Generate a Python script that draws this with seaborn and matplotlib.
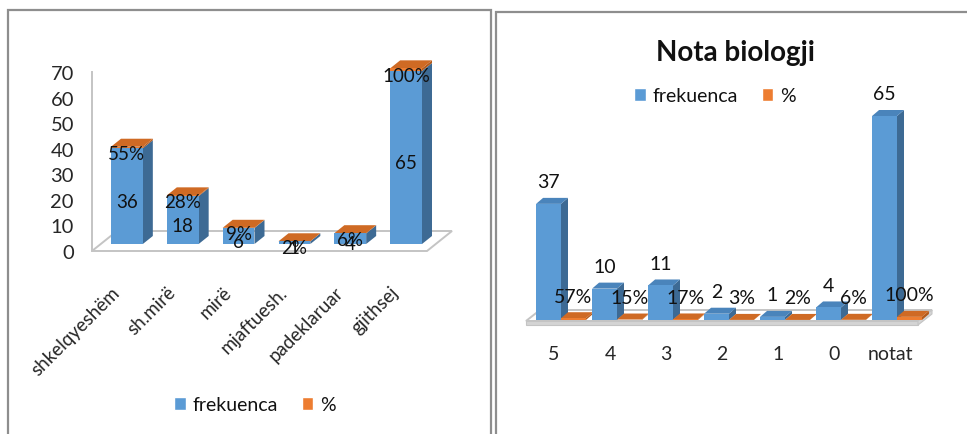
import matplotlib
matplotlib.use("Agg")
import matplotlib.pyplot as plt
import seaborn as sns
import pandas as pd
from matplotlib.patches import Polygon, Rectangle
from matplotlib.transforms import ScaledTranslation

# ---- data -------------------------------------------------------------
grades_left = ["shkelqyeshëm", "sh.mirë", "mirë", "mjaftuesh.", "padeklaruar", "gjithsej"]
freq_left = [36, 18, 6, 1, 4, 65]
pct_left = [0.55, 0.28, 0.09, 0.02, 0.06, 1.00]

grades_right = ["5", "4", "3", "2", "1", "0", "notat"]
freq_right = [37, 10, 11, 2, 1, 4, 65]
pct_right = [0.57, 0.15, 0.17, 0.03, 0.02, 0.06, 1.00]

series_names = ["frekuenca", "%"]
left_ticks = [0, 10, 20, 30, 40, 50, 60, 70]
title_right = "Nota biologji"

# ---- style ------------------------------------------------------------
BLUE, ORANGE = "#5b9bd5", "#ed7d31"
BLUE_SIDE, BLUE_TOP = "#3d6a94", "#4a84bb"
ORANGE_SIDE, ORANGE_TOP = "#b55a1a", "#cf6a24"
GRID = "#c4c4c4"
BORDER = "#8e8e8e"

sns.set_theme(style="white")
plt.rcParams["font.family"] = ["Lato", "DejaVu Sans"]
plt.rcParams["text.color"] = "#111111"

W, H, DPI = 967, 435, 100
fig = plt.figure(figsize=(W / DPI, H / DPI), dpi=DPI)
fig.patch.set_facecolor("white")


def fx(x):
    return x / W


def fy(y):
    return 1 - y / H


def axes_px(left, top, right, bottom, **kw):
    return fig.add_axes([fx(left), fy(bottom), (right - left) / W, (bottom - top) / H], **kw)


def fig_poly(pts, **kw):
    p = Polygon([(fx(x), fy(y)) for x, y in pts], closed=True,
                transform=fig.transFigure, **kw)
    fig.add_artist(p)
    return p


def extrude(ax, bars, dx_px, dy_px, side_color, top_color=None):
    """Add a receding side face (and optionally a top face) to each bar."""
    p0 = ax.transData.transform((0, 0))
    p1 = ax.transData.transform((1, 1))
    ux = dx_px / (p1[0] - p0[0])
    uy = dy_px / (p1[1] - p0[1])
    for r in bars:
        x0, y0 = r.get_x(), r.get_y()
        x1, y1 = x0 + r.get_width(), y0 + r.get_height()
        ax.add_patch(Polygon([(x1, y0), (x1 + ux, y0 + uy), (x1 + ux, y1 + uy), (x1, y1)],
                             closed=True, fc=side_color, ec="none", clip_on=False, zorder=0.9))
        if top_color is not None:
            ax.add_patch(Polygon([(x0, y1), (x1, y1), (x1 + ux, y1 + uy), (x0 + ux, y1 + uy)],
                                 closed=True, fc=top_color, ec="none", clip_on=False, zorder=0.95))


# ---- panel frames -----------------------------------------------------
fig.add_artist(Rectangle((fx(8), fy(445)), (491 - 8) / W, (445 - 11) / H,
                         transform=fig.transFigure, fill=False, ec=BORDER, lw=1.6, zorder=-2))
fig.add_artist(Rectangle((fx(496), fy(445)), (985 - 496) / W, (445 - 13) / H,
                         transform=fig.transFigure, fill=False, ec=BORDER, lw=1.6, zorder=-2))

# ---- left chart: stacked 3-D columns -----------------------------------
FS_L = 13.5
# floor of the 3-D plot
fig_poly([(92, 252), (427, 252), (452, 232), (117, 232)], fill=False, ec=GRID, lw=1.4, zorder=-1)

# value axis drawn on the wall
axt = axes_px(92, 73, 434, 252)
axt.set_facecolor("none")
axt.set_ylim(0, 70)
axt.set_xlim(0, 1)
axt.set_yticks(left_ticks)
axt.set_yticklabels([str(t) for t in left_ticks], fontsize=14.5)
axt.set_xticks([])
axt.tick_params(axis="y", length=0, pad=13)
for s in ["top", "right", "bottom"]:
    axt.spines[s].set_visible(False)
axt.spines["left"].set_color(GRID)
axt.spines["left"].set_linewidth(1.4)

k_left = 173 / 65
ax1 = axes_px(99, 245 - 75 * k_left, 434, 245)
ax1.set_facecolor("none")
sns.barplot(x=grades_left, y=freq_left, color=BLUE, width=0.57, saturation=1,
            linewidth=0, edgecolor="none", ax=ax1, zorder=1)
sns.barplot(x=grades_left, y=pct_left, color=ORANGE, width=0.57, saturation=1,
            linewidth=0, edgecolor="none", bottom=freq_left, ax=ax1, zorder=1)
ax1.set_xlim(-0.5, len(grades_left) - 0.5)
ax1.set_ylim(0, 75)
blue_l, orange_l = ax1.containers[0], ax1.containers[1]
extrude(ax1, blue_l, 10, 8, BLUE_SIDE)
extrude(ax1, orange_l, 10, 8, ORANGE_SIDE, ORANGE_TOP)

for i, (f, p) in enumerate(zip(freq_left, pct_left)):
    ax1.annotate(str(f), (i, f / 2), xytext=(0, -5), textcoords="offset pixels",
                 ha="center", va="center", fontsize=FS_L, zorder=5)
    ax1.annotate(f"{p * 100:.0f}%", (i, f + p / 2), xytext=(0, -6), textcoords="offset pixels",
                 ha="center", va="center", fontsize=FS_L, zorder=5)

ax1.set_yticks([])
ax1.tick_params(axis="x", length=0, pad=28)
ax1.set_xticks(range(len(grades_left)))
ax1.set_xticklabels(grades_left, rotation=45, ha="right", rotation_mode="anchor", fontsize=13.5)
for lbl in ax1.get_xticklabels():
    lbl.set_transform(lbl.get_transform() + ScaledTranslation(-16 / DPI, 0, fig.dpi_scale_trans))
for s in ax1.spines.values():
    s.set_visible(False)

fig.legend(handles=[Rectangle((0, 0), 1, 1, fc=BLUE), Rectangle((0, 0), 1, 1, fc=ORANGE)],
           labels=series_names, loc="center", bbox_to_anchor=(fx(255), fy(406)), ncol=2,
           frameon=False, fontsize=14, handlelength=0.6, handleheight=0.6,
           handletextpad=0.35, columnspacing=1.2)

# ---- right chart: clustered 3-D columns --------------------------------
FS_R = 14
fig_poly([(526, 322), (918, 322), (932, 311), (540, 311)], fc="white", ec=GRID, lw=1.4, zorder=-1)
fig_poly([(526, 322), (918, 322), (918, 326), (526, 326)], fc="#d4d4d4", ec=GRID, lw=0.8, zorder=-1)
fig_poly([(918, 322), (932, 311), (932, 315), (918, 326)], fc="#d4d4d4", ec=GRID, lw=0.8, zorder=-1)

k_right = 204 / 65
ax2 = axes_px(533, 321 - 70 * k_right, 925, 321)
ax2.set_facecolor("none")
df_right = pd.DataFrame({
    "nota": grades_right * 2,
    "seria": [series_names[0]] * len(grades_right) + [series_names[1]] * len(grades_right),
    "vlera": freq_right + pct_right,
})
sns.barplot(data=df_right, x="nota", y="vlera", hue="seria", order=grades_right,
            hue_order=series_names, palette=[BLUE, ORANGE], width=0.89, gap=0,
            saturation=1, linewidth=0, edgecolor="none", legend=False, ax=ax2, zorder=1)
ax2.set_xlim(-0.5, len(grades_right) - 0.5)
ax2.set_ylim(0, 70)
blue_r, orange_r = ax2.containers[0], ax2.containers[1]
extrude(ax2, blue_r, 7, 6, BLUE_SIDE, BLUE_TOP)
extrude(ax2, orange_r, 7, 6, ORANGE_SIDE, ORANGE_TOP)

for r, f in zip(blue_r, freq_right):
    ax2.annotate(str(f), (r.get_x() + r.get_width() / 2, r.get_height()), xytext=(0, 22),
                 textcoords="offset pixels", ha="center", va="center", fontsize=FS_R, zorder=5)
for r, p in zip(orange_r, pct_right):
    ax2.annotate(f"{p * 100:.0f}%", (r.get_x() + r.get_width() / 2, r.get_height()),
                 xytext=(0, 22), textcoords="offset pixels", ha="center", va="center",
                 fontsize=FS_R, zorder=5)

ax2.set_xlabel("")
ax2.set_ylabel("")
ax2.set_yticks([])
ax2.tick_params(axis="x", length=0, pad=18, labelsize=FS_R)
for lbl in ax2.get_xticklabels():
    lbl.set_transform(lbl.get_transform() + ScaledTranslation(-7 / DPI, 0, fig.dpi_scale_trans))
for s in ax2.spines.values():
    s.set_visible(False)

fig.text(fx(735), fy(53), title_right, ha="center", va="center", fontsize=20, fontweight="bold")
fig.legend(handles=[Rectangle((0, 0), 1, 1, fc=BLUE), Rectangle((0, 0), 1, 1, fc=ORANGE)],
           labels=series_names, loc="center", bbox_to_anchor=(fx(715), fy(97)), ncol=2,
           frameon=False, fontsize=FS_R, handlelength=0.6, handleheight=0.6,
           handletextpad=0.35, columnspacing=1.2)

fig.savefig("out.png", dpi=DPI)
